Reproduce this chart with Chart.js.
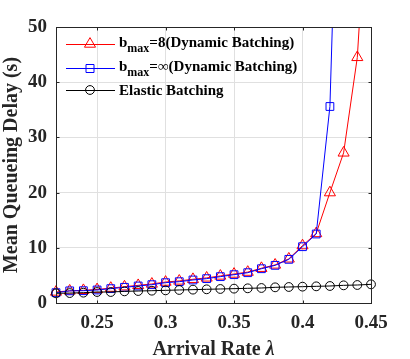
<!DOCTYPE html>
<html lang="en">
<head>
<meta charset="UTF-8">
<title>Mean Queueing Delay</title>
<script src="https://cdn.jsdelivr.net/npm/chart.js"></script>
<style>
  html, body { margin: 0; padding: 0; background: #fff; }
  #wrap { width: 410px; height: 359px; }
</style>
</head>
<body>
<div id="wrap"><canvas id="chart" width="410" height="359"></canvas></div>
<script>
// values
const arrivalRate = [0.22, 0.23, 0.24, 0.25, 0.26, 0.27, 0.28, 0.29, 0.30, 0.31, 0.32, 0.33,
                     0.34, 0.35, 0.36, 0.37, 0.38, 0.39, 0.40, 0.41, 0.42, 0.43, 0.44, 0.45];
const bmax8 = [2.0, 2.2, 2.3, 2.45, 2.7, 2.95, 3.2, 3.45, 3.8, 4.0, 4.3, 4.55,
               4.9, 5.25, 5.6, 6.3, 6.9, 8.0, 10.4, 12.6, 20.0, 27.2, 44.5, 85];
const bmaxInf = [1.87, 2.2, 2.23, 2.36, 2.6, 2.84, 3.08, 3.32, 3.68, 3.86, 4.17, 4.41,
                 4.77, 5.13, 5.49, 6.21, 6.82, 7.91, 10.2, 12.5, 35.6, 118, null, null];
const elastic = [1.75, 1.8, 1.87, 1.99, 1.99, 2.11, 2.17, 2.23, 2.29, 2.36, 2.42, 2.48,
                 2.54, 2.6, 2.66, 2.72, 2.84, 2.9, 2.96, 3.02, 3.08, 3.2, 3.26, 3.38];
const xTicks = [0.25, 0.3, 0.35, 0.4, 0.45];
const yTicks = [0, 10, 20, 30, 40, 50];

const serif = "'Liberation Serif', 'Times New Roman', serif";

function series(vals) {
  return arrivalRate.map((x, i) => ({ x: x, y: vals[i] }));
}

// box around the axes + inward ticks on all sides (matlab look)
const boxPlugin = {
  id: 'box',
  afterDraw(chart) {
    const { ctx, chartArea: a, scales } = chart;
    const L = Math.round(a.left) + 0.5, R = Math.round(a.right) + 0.5;
    const T = Math.round(a.top) + 0.5, B = Math.round(a.bottom) + 0.5;
    ctx.save();
    ctx.strokeStyle = '#262626';
    ctx.lineWidth = 1;
    ctx.strokeRect(L, T, R - L, B - T);
    ctx.beginPath();
    xTicks.forEach(v => {
      const px = Math.round(scales.x.getPixelForValue(v)) + 0.5;
      ctx.moveTo(px, B); ctx.lineTo(px, B - 3);
      ctx.moveTo(px, T); ctx.lineTo(px, T + 3);
    });
    yTicks.forEach(v => {
      const py = Math.round(scales.y.getPixelForValue(v)) + 0.5;
      ctx.moveTo(L, py); ctx.lineTo(L + 3, py);
      ctx.moveTo(R, py); ctx.lineTo(R - 3, py);
    });
    ctx.stroke();

    // x title with italic lambda
    const cx = (a.left + a.right) / 2;
    ctx.fillStyle = '#262626';
    ctx.textBaseline = 'alphabetic';
    ctx.textAlign = 'left';
    const f1 = 'bold 20px ' + serif, f2 = 'italic bold 20px ' + serif;
    ctx.font = f1;
    const w1 = ctx.measureText('Arrival Rate ').width;
    ctx.font = f2;
    const w2 = ctx.measureText('\u03BB').width;
    const x0 = cx - (w1 + w2) / 2;
    ctx.font = f1;
    ctx.fillText('Arrival Rate ', x0, 355);
    ctx.font = f2;
    ctx.fillText('\u03BB', x0 + w1, 355);
    ctx.restore();
  }
};

// legend drawn inside the plot, no frame
const legendPlugin = {
  id: 'insideLegend',
  afterDraw(chart) {
    const ctx = chart.ctx;
    const rows = [
      { color: '#ff0000', shape: 'tri', y: 44, base: 46.7, sub: 'max', rest: '=8(Dynamic Batching)' },
      { color: '#0000ff', shape: 'sq', y: 68, base: 70.7, sub: 'max', rest: '=\u221E(Dynamic Batching)' },
      { color: '#000000', shape: 'circ', y: 90, base: 95, text: 'Elastic Batching' }
    ];
    ctx.save();
    rows.forEach(r => {
      ctx.strokeStyle = r.color;
      ctx.lineWidth = 1;
      ctx.beginPath();
      ctx.moveTo(66, r.y + 0.5); ctx.lineTo(115, r.y + 0.5);
      ctx.stroke();
      ctx.beginPath();
      if (r.shape === 'tri') {
        const rad = 6.4;
        ctx.moveTo(90, r.y - rad);
        ctx.lineTo(90 + rad * 0.866, r.y + rad / 2);
        ctx.lineTo(90 - rad * 0.866, r.y + rad / 2);
        ctx.closePath();
      } else if (r.shape === 'sq') {
        ctx.rect(86, r.y - 3.5, 8, 8);
      } else {
        ctx.arc(90, r.y, 4.4, 0, Math.PI * 2);
      }
      ctx.stroke();

      ctx.fillStyle = '#000';
      ctx.textBaseline = 'alphabetic';
      ctx.textAlign = 'left';
      ctx.font = 'bold 15px ' + serif;
      if (r.text) {
        ctx.fillText(r.text, 119, r.base);
      } else {
        let x = 119;
        ctx.fillText('b', x, r.base);
        x += ctx.measureText('b').width;
        ctx.font = 'bold 12px ' + serif;
        ctx.fillText(r.sub, x, r.base + 5.6);
        x += ctx.measureText(r.sub).width;
        ctx.font = 'bold 15px ' + serif;
        ctx.fillText(r.rest, x, r.base);
      }
    });
    ctx.restore();
  }
};

const clipArea = { left: 8, right: 8, top: 0, bottom: 8 };

new Chart(document.getElementById('chart'), {
  type: 'line',
  data: {
    datasets: [
      { label: 'bmax=8', data: series(bmax8), borderColor: '#ff0000', backgroundColor: 'transparent',
        borderWidth: 1, pointStyle: 'triangle', pointRadius: 6.4, pointBorderWidth: 1,
        pointBackgroundColor: 'transparent', pointBorderColor: '#ff0000', order: 3, clip: clipArea },
      { label: 'bmax=inf', data: series(bmaxInf), borderColor: '#0000ff', backgroundColor: 'transparent',
        borderWidth: 1, pointStyle: 'rect', pointRadius: 5.5, pointBorderWidth: 1,
        pointBackgroundColor: 'transparent', pointBorderColor: '#0000ff', order: 2, clip: clipArea },
      { label: 'Elastic Batching', data: series(elastic), borderColor: '#000000', backgroundColor: 'transparent',
        borderWidth: 1, pointStyle: 'circle', pointRadius: 4.4, pointBorderWidth: 1,
        pointBackgroundColor: 'transparent', pointBorderColor: '#000000', order: 1, clip: clipArea }
    ]
  },
  options: {
    responsive: false,
    animation: false,
    spanGaps: false,
    layout: { padding: { left: 0, right: 39, top: 27, bottom: 0 } },
    plugins: { legend: { display: false }, tooltip: { enabled: false } },
    scales: {
      x: {
        type: 'linear', min: 0.22, max: 0.45,
        afterBuildTicks: s => { s.ticks = xTicks.map(v => ({ value: v })); },
        afterFit: s => { s.height = 56; },
        grid: { color: '#e0e0e0', drawTicks: false },
        border: { display: false },
        ticks: {
          padding: 9, color: '#262626', maxRotation: 0,
          font: { family: serif, size: 19, weight: 'bold' },
          callback: v => String(+Number(v).toFixed(2))
        }
      },
      y: {
        min: 0, max: 50,
        afterBuildTicks: s => { s.ticks = yTicks.map(v => ({ value: v })); },
        afterFit: s => { s.width = 56; },
        grid: { color: '#e0e0e0', drawTicks: false },
        border: { display: false },
        ticks: {
          padding: 9, color: '#262626',
          font: { family: serif, size: 19, weight: 'bold' }
        },
        title: {
          display: true, text: 'Mean Queueing Delay (s)', color: '#262626',
          font: { family: serif, size: 20, weight: 'bold' }, padding: { top: 0, bottom: 0 }
        }
      }
    }
  },
  plugins: [boxPlugin, legendPlugin]
});
</script>
</body>
</html>
